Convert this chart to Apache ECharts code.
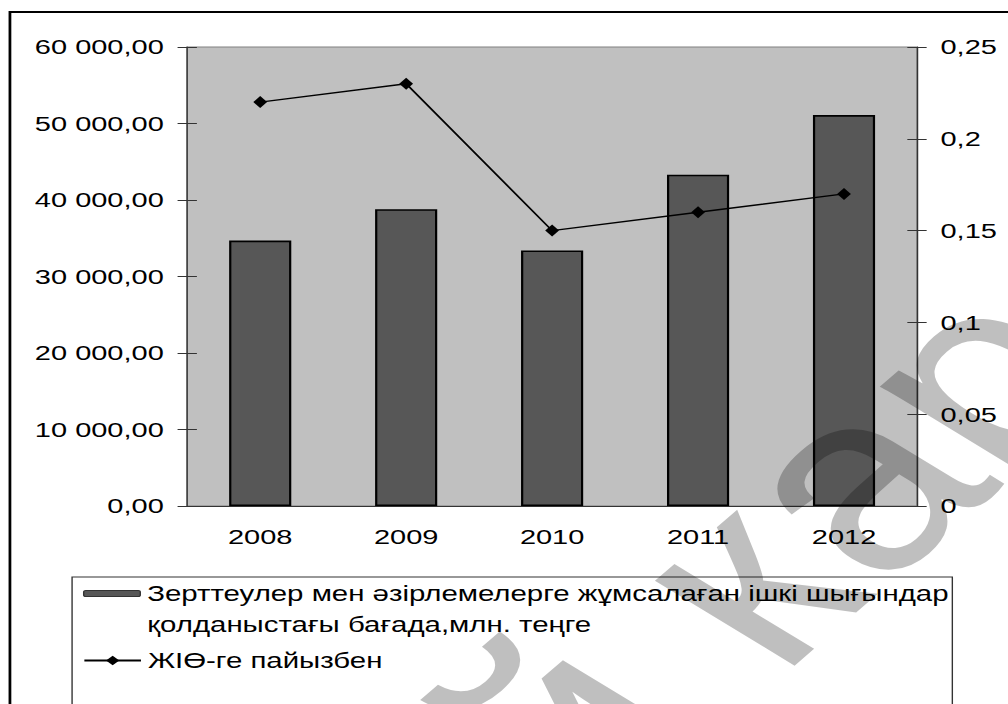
<!DOCTYPE html>
<html>
<head>
<meta charset="utf-8">
<script src="https://cdn.jsdelivr.net/npm/echarts@6.0.0/dist/echarts.min.js"></script>
<style>
  html, body { margin: 0; padding: 0; background: #fff; overflow: hidden; }
  /* the source picture is stretched sideways, so the chart is drawn narrow and widened */
  #chart { width: 730px; height: 704px; transform: scaleX(1.3808); transform-origin: 0 0; }
</style>
</head>
<body>
<div id="chart"></div>
<script>
const years = ['2008', '2009', '2010', '2011', '2012']
const spending = [34700, 38800, 33400, 43300, 51100]
const gdpShare = [0.22, 0.23, 0.15, 0.16, 0.17]

const barName = 'Зерттеулер мен әзірлемелерге жұмсалаған ішкі шығындар қолданыстағы бағада,млн. теңге'
const lineName = 'ЖІӨ-ге пайызбен'
const watermark = 'ий карағанды'

const font = '"Liberation Sans", Arial, sans-serif'
const axisColor = '#333'

function fmtLeft (v) {
  return String(Math.round(v)).replace(/\B(?=(\d{3})+(?!\d))/g, ' ') + ',00'
}
function fmtRight (v) {
  return String(+v.toFixed(2)).replace('.', ',')
}

const label = { color: '#000', fontFamily: font, fontSize: 21 }

const chart = echarts.init(document.getElementById('chart'), null, { renderer: 'svg' })
chart.setOption({
  animation: false,
  grid: {
    left: 135.6,
    right: 65.9,
    top: 47,
    bottom: 198,
    show: true,
    backgroundColor: '#c0c0c0',
    borderColor: '#808080',
    borderWidth: 1
  },
  xAxis: [{
    type: 'category',
    data: years,
    axisLine: { lineStyle: { color: axisColor, width: 1 } },
    axisTick: { length: 6, lineStyle: { color: axisColor } },
    axisLabel: Object.assign({ margin: 20 }, label)
  }, {
    // inner half of the crossing ticks
    type: 'category',
    data: years,
    position: 'bottom',
    axisLine: { show: false },
    axisTick: { inside: true, length: 8, lineStyle: { color: axisColor } },
    axisLabel: { show: false }
  }],
  yAxis: [{
    type: 'value',
    position: 'left',
    min: 0,
    max: 60000,
    interval: 10000,
    axisLine: { show: true, lineStyle: { color: axisColor } },
    axisTick: { show: true, length: 7, lineStyle: { color: axisColor } },
    splitLine: { show: false },
    axisLabel: Object.assign({ margin: 17, formatter: fmtLeft }, label)
  }, {
    type: 'value',
    position: 'right',
    min: 0,
    max: 0.25,
    interval: 0.05,
    axisLine: { show: true, lineStyle: { color: axisColor } },
    axisTick: { show: true, length: 7, lineStyle: { color: axisColor } },
    splitLine: { show: false },
    axisLabel: Object.assign({ margin: 17, formatter: fmtRight }, label)
  }, {
    type: 'value',
    position: 'left',
    min: 0,
    max: 60000,
    interval: 10000,
    axisLine: { show: false },
    axisTick: { show: true, inside: true, length: 7, lineStyle: { color: axisColor } },
    splitLine: { show: false },
    axisLabel: { show: false }
  }, {
    type: 'value',
    position: 'right',
    min: 0,
    max: 0.25,
    interval: 0.05,
    axisLine: { show: false },
    axisTick: { show: true, inside: true, length: 7, lineStyle: { color: axisColor } },
    splitLine: { show: false },
    axisLabel: { show: false }
  }],
  legend: [{
    data: [barName],
    left: 60.1,
    top: 547,
    padding: 0,
    itemWidth: 41,
    itemHeight: 6,
    selectedMode: false,
    // empty first line keeps the swatch level with the first text line
    formatter: n => '\n' + n.replace(' қолданыстағы', '\nқолданыстағы'),
    itemStyle: { borderColor: '#333', borderWidth: 1 },
    textStyle: { color: '#000', fontFamily: font, fontSize: 21.3, lineHeight: 31 }
  }, {
    data: [lineName],
    left: 60.1,
    top: 650,
    padding: 0,
    itemWidth: 41,
    itemHeight: 12,
    selectedMode: false,
    textStyle: { color: '#000', fontFamily: font, fontSize: 21.3, lineHeight: 12 }
  }],
  series: [{
    name: barName,
    type: 'bar',
    yAxisIndex: 0,
    data: spending,
    barWidth: 45,
    itemStyle: { color: '#575757', borderColor: '#000', borderWidth: 1.6 }
  }, {
    name: lineName,
    type: 'line',
    yAxisIndex: 1,
    data: gdpShare,
    symbol: 'diamond',
    symbolSize: [10, 12],
    lineStyle: { color: '#000', width: 1.4 },
    itemStyle: { color: '#000' }
  }],
  graphic: [{
    type: 'rect',
    silent: true,
    shape: { x: 7.2, y: 12, width: 900, height: 900 },
    style: { fill: 'none', stroke: '#000', lineWidth: 2 }
  }, {
    type: 'rect',
    silent: true,
    shape: { x: 52.2, y: 577, width: 637.5, height: 300 },
    style: { fill: 'none', stroke: '#333', lineWidth: 1 }
  }, {
    type: 'text',
    silent: true,
    z: 100,
    x: 274,
    y: 890,
    rotation: 50 * Math.PI / 180,
    style: {
      text: watermark,
      font: '250px "Liberation Sans", Arial, sans-serif',
      fill: 'rgba(0,0,0,0.25)',
      align: 'left',
      verticalAlign: 'middle'
    }
  }]
})
</script>
</body>
</html>
